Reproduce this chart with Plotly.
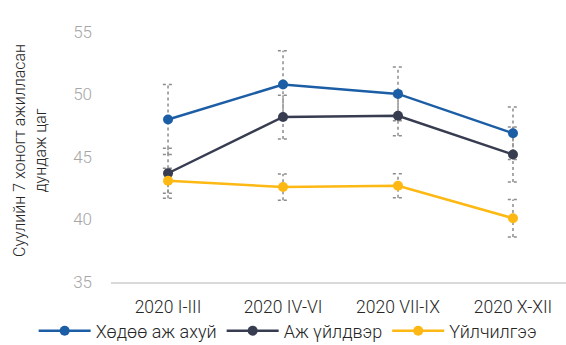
import plotly.graph_objects as go

categories = ["2020 I-III", "2020 IV-VI", "2020 VII-IX", "2020 X-XII"]
series_names = ["Хөдөө аж ахуй", "Аж үйлдвэр", "Үйлчилгээ"]
agri = [48.0, 50.8, 50.05, 46.9]
agri_err = [2.8, 2.7, 2.15, 2.1]
industry = [43.7, 48.2, 48.3, 45.2]
industry_err = [2.0, 1.75, 1.6, 2.2]
services = [43.1, 42.6, 42.7, 40.1]
services_err = [1.0, 1.05, 0.95, 1.5]
y_ticks = [35, 40, 45, 50, 55]

colors = ["#1c5ea5", "#383c50", "#fdb813"]
err_color = "#8c8c8c"
cap = 0.045

fig = go.Figure()
xs = list(range(len(categories)))

for vals, errs in [(agri, agri_err), (industry, industry_err), (services, services_err)]:
    ex, ey = [], []
    for x, v, e in zip(xs, vals, errs):
        ex += [x, x, None, x - cap, x + cap, None, x - cap, x + cap, None]
        ey += [v - e, v + e, None, v + e, v + e, None, v - e, v - e, None]
    fig.add_trace(go.Scatter(x=ex, y=ey, mode="lines", showlegend=False, hoverinfo="skip",
                             line=dict(color=err_color, width=1.5, dash="dot")))

for name, vals, col in zip(series_names, [agri, industry, services], colors):
    fig.add_trace(go.Scatter(x=xs, y=vals, name=name, mode="lines+markers",
                             line=dict(color=col, width=2.5),
                             marker=dict(color=col, size=10)))

fig.update_layout(
    width=566, height=345,
    margin=dict(l=111, r=0, t=32, b=63, autoexpand=False),
    paper_bgcolor="white", plot_bgcolor="white",
    font=dict(family="Roboto", color="#262626", weight=300),
    showlegend=True,
    legend=dict(orientation="h", x=-0.17, xanchor="left", y=-0.196, yanchor="middle",
                font=dict(size=18, color="#262626", weight=300), itemwidth=52,
                tracegroupgap=0, traceorder="normal"),
    xaxis=dict(range=[-0.496, 3.461], tickmode="array", tickvals=xs, ticktext=categories,
               showgrid=False, zeroline=False, showline=True, linecolor="#d9d9d9", linewidth=1.5,
               ticks="", tickfont=dict(size=17.5, color="#262626", weight=300), ticklabelstandoff=8),
    yaxis=dict(range=[35, 55], tickmode="array", tickvals=y_ticks, showgrid=False, zeroline=False,
               showline=False, ticks="", tickfont=dict(size=17, color="#a6a6a6", weight=300),
               ticklabelstandoff=18),
    annotations=[dict(text="Суулийн 7 хоногт ажилласан<br>дундаж цаг", textangle=-90,
                      xref="paper", yref="paper", x=-0.178, y=0.524, xanchor="center", yanchor="middle",
                      showarrow=False, font=dict(size=16, color="#262626", weight=300))],
)

fig.write_html("out.html", config={"displayModeBar": False},
               post_script="document.body.style.margin='0';")
